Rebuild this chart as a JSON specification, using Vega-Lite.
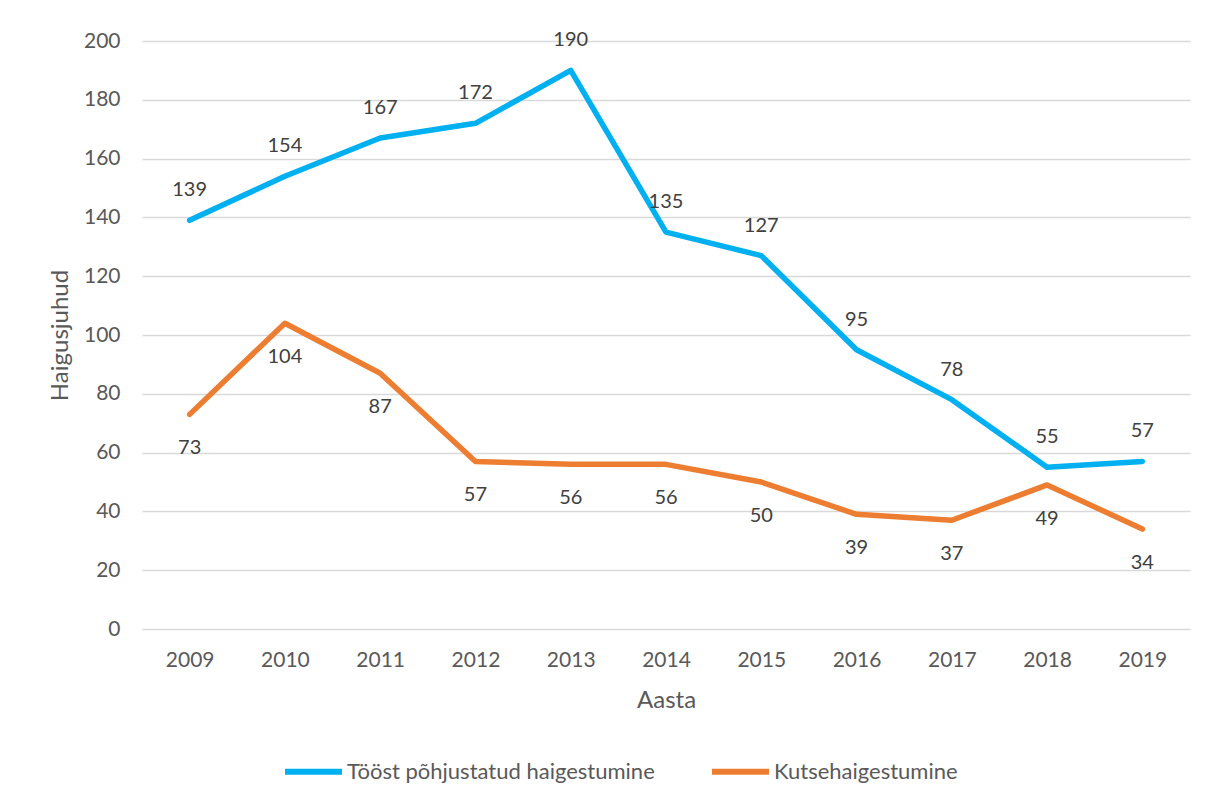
{
  "$schema": "https://vega.github.io/schema/vega-lite/v6.json",
  "width": 1048,
  "height": 588,
  "autosize": "none",
  "padding": {"left": 142, "top": 41, "right": 19, "bottom": 172},
  "background": "white",
  "config": {"font": "Lato", "view": {"stroke": null}},
  "data": {
    "values": [
      {"year": "2009", "series": "Tööst põhjustatud haigestumine", "value": 139},
      {"year": "2010", "series": "Tööst põhjustatud haigestumine", "value": 154},
      {"year": "2011", "series": "Tööst põhjustatud haigestumine", "value": 167},
      {"year": "2012", "series": "Tööst põhjustatud haigestumine", "value": 172},
      {"year": "2013", "series": "Tööst põhjustatud haigestumine", "value": 190},
      {"year": "2014", "series": "Tööst põhjustatud haigestumine", "value": 135},
      {"year": "2015", "series": "Tööst põhjustatud haigestumine", "value": 127},
      {"year": "2016", "series": "Tööst põhjustatud haigestumine", "value": 95},
      {"year": "2017", "series": "Tööst põhjustatud haigestumine", "value": 78},
      {"year": "2018", "series": "Tööst põhjustatud haigestumine", "value": 55},
      {"year": "2019", "series": "Tööst põhjustatud haigestumine", "value": 57},
      {"year": "2009", "series": "Kutsehaigestumine", "value": 73},
      {"year": "2010", "series": "Kutsehaigestumine", "value": 104},
      {"year": "2011", "series": "Kutsehaigestumine", "value": 87},
      {"year": "2012", "series": "Kutsehaigestumine", "value": 57},
      {"year": "2013", "series": "Kutsehaigestumine", "value": 56},
      {"year": "2014", "series": "Kutsehaigestumine", "value": 56},
      {"year": "2015", "series": "Kutsehaigestumine", "value": 50},
      {"year": "2016", "series": "Kutsehaigestumine", "value": 39},
      {"year": "2017", "series": "Kutsehaigestumine", "value": 37},
      {"year": "2018", "series": "Kutsehaigestumine", "value": 49},
      {"year": "2019", "series": "Kutsehaigestumine", "value": 34}
    ]
  },
  "encoding": {
    "x": {
      "field": "year",
      "type": "ordinal",
      "scale": {"type": "point", "padding": 0.5},
      "axis": {
        "title": "Aasta",
        "labelAngle": 0,
        "domain": false,
        "ticks": false,
        "labelPadding": 20,
        "labelFontSize": 21,
        "labelColor": "#595959",
        "titleFontSize": 24,
        "titleFontWeight": "normal",
        "titleColor": "#595959",
        "titlePadding": 18
      }
    },
    "y": {
      "field": "value",
      "type": "quantitative",
      "scale": {"domain": [0, 200], "nice": false},
      "axis": {
        "title": "Haigusjuhud",
        "values": [0, 20, 40, 60, 80, 100, 120, 140, 160, 180, 200],
        "domain": false,
        "ticks": false,
        "labelPadding": 22,
        "labelFontSize": 21,
        "labelColor": "#595959",
        "gridColor": "#D9D9D9",
        "gridWidth": 1.5,
        "titleFontSize": 24,
        "titleFontWeight": "normal",
        "titleColor": "#595959",
        "titlePadding": 11
      }
    }
  },
  "layer": [
    {
      "mark": {"type": "line", "strokeWidth": 5.5, "strokeCap": "round", "strokeJoin": "round"},
      "encoding": {
        "color": {
          "field": "series",
          "type": "nominal",
          "scale": {
            "domain": ["Tööst põhjustatud haigestumine", "Kutsehaigestumine"],
            "range": ["#00B0F0", "#ED7D31"]
          },
          "legend": {
            "title": null,
            "orient": "none",
            "direction": "horizontal",
            "legendX": 140,
            "legendY": 699,
            "symbolType": "stroke",
            "symbolSize": 3249,
            "symbolStrokeWidth": 6,
            "labelFontSize": 22,
            "labelColor": "#595959",
            "labelOffset": 2,
            "labelLimit": 0,
            "columnPadding": 45
          }
        }
      }
    },
    {
      "transform": [{"filter": "datum.series === 'Tööst põhjustatud haigestumine'"}],
      "mark": {"type": "text", "dy": -30, "fontSize": 20, "color": "#404040", "baseline": "middle"},
      "encoding": {"text": {"field": "value", "type": "quantitative"}}
    },
    {
      "transform": [{"filter": "datum.series === 'Kutsehaigestumine'"}],
      "mark": {"type": "text", "dy": 34, "fontSize": 20, "color": "#404040", "baseline": "middle"},
      "encoding": {"text": {"field": "value", "type": "quantitative"}}
    }
  ]
}
